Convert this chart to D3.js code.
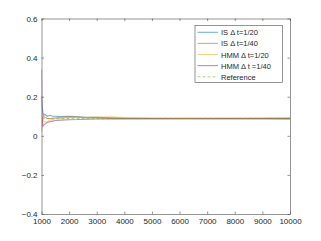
<!DOCTYPE html>
<html><head><meta charset="utf-8">
<script src="https://cdn.jsdelivr.net/npm/d3@7/dist/d3.min.js"></script>
<style>body{margin:0;background:#fff}svg{display:block}</style>
</head><body>
<script>
const xs = [1000,1020,1050,1080,1120,1200,1300,1400,1500,1700,2000,2300,2600,3000,3500,4000,5000,6000,7000,8000,9000,10000];
const isDt20  = [0.20,0.15,0.12,0.105,0.11,0.10,0.105,0.10,0.10,0.098,0.10,0.098,0.095,0.094,0.092,0.09,0.089,0.089,0.089,0.089,0.089,0.089];
const isDt40  = [0.02,0.07,0.09,0.10,0.095,0.09,0.088,0.09,0.092,0.095,0.097,0.095,0.093,0.092,0.09,0.089,0.088,0.088,0.088,0.088,0.088,0.088];
const hmmDt20 = [0.10,0.09,0.08,0.075,0.07,0.072,0.08,0.085,0.088,0.09,0.094,0.095,0.095,0.096,0.097,0.093,0.09,0.089,0.09,0.09,0.091,0.093];
const hmmDt40 = [0.34,0.10,0.05,0.055,0.06,0.068,0.072,0.075,0.078,0.08,0.082,0.083,0.085,0.086,0.087,0.086,0.087,0.087,0.087,0.087,0.087,0.086];
const refVal  = [0.088,0.088];
const refX    = [1000,10000];
const labels  = ["IS \u0394 t=1/20","IS \u0394 t=1/40","HMM \u0394 t=1/20","HMM \u0394 t =1/40","Reference"];
const colors  = ["#0072BD","#D95319","#EDB120","#7E2F8E","#77AC30"];
const xTicks  = [1000,2000,3000,4000,5000,6000,7000,8000,9000,10000];
const yTicks  = [-0.4,-0.2,0,0.2,0.4,0.6];

const W=321,H=241, L=41.5, R=290, T=18.5, B=214;
const svg=d3.select("body").append("svg").attr("width",W).attr("height",H);
const x=d3.scaleLinear().domain([1000,10000]).range([L,R]);
const y=d3.scaleLinear().domain([-0.4,0.6]).range([B,T]);
const ax="#4d4d4d", font="Liberation Sans, Arial, sans-serif";

const gx=svg.append("g").attr("transform",`translate(0,${B})`)
 .call(d3.axisBottom(x).tickValues(xTicks).tickSizeInner(-2.5).tickSizeOuter(0).tickPadding(4).tickFormat(d3.format("d")));
const gy=svg.append("g").attr("transform",`translate(${L},0)`)
 .call(d3.axisLeft(y).tickValues(yTicks).tickSizeInner(-2.5).tickSizeOuter(0).tickPadding(4).tickFormat(d=>d===0?"0":d3.format(".1f")(d)));
const gt=svg.append("g").attr("transform",`translate(0,${T})`)
 .call(d3.axisTop(x).tickValues(xTicks).tickSizeInner(-2.5).tickSizeOuter(0).tickFormat(""));
const gr=svg.append("g").attr("transform",`translate(${R},0)`)
 .call(d3.axisRight(y).tickValues(yTicks).tickSizeInner(-2.5).tickSizeOuter(0).tickFormat(""));
[gx,gy,gt,gr].forEach(g=>{g.selectAll("path,line").attr("stroke",ax).attr("stroke-width",0.6);
 g.selectAll("text").attr("fill","#262626").style("font-family",font).style("font-size","8px");});

const line=d3.line().x(d=>x(d[0])).y(d=>y(d[1]));
const series=[isDt20,isDt40,hmmDt20,hmmDt40];
const clip=svg.append("clipPath").attr("id","c").append("rect").attr("x",L).attr("y",T).attr("width",R-L).attr("height",B-T);
const plot=svg.append("g").attr("clip-path","url(#c)");
series.forEach((s,i)=>plot.append("path").datum(xs.map((v,j)=>[v,s[j]]))
 .attr("d",line).attr("fill","none").attr("stroke",colors[i]).attr("stroke-width",1.1).attr("stroke-opacity",0.55));
plot.append("path").datum(refX.map((v,j)=>[v,refVal[j]])).attr("d",line).attr("fill","none")
 .attr("stroke",colors[4]).attr("stroke-width",1.1).attr("stroke-opacity",0.55).attr("stroke-dasharray","3,2");

const lg=svg.append("g");
lg.append("rect").attr("x",195).attr("y",25.5).attr("width",87.5).attr("height",57).attr("fill","#fff").attr("stroke",ax).attr("stroke-width",0.6);
labels.forEach((t,i)=>{const yy=32.3+i*11.1;
 lg.append("line").attr("x1",197.5).attr("x2",218).attr("y1",yy).attr("y2",yy).attr("stroke",colors[i]).attr("stroke-width",1.1).attr("stroke-opacity",0.55).attr("stroke-dasharray",i===4?"3,2":null);
 lg.append("text").attr("x",221).attr("y",yy+3).text(t).attr("fill","#262626").style("font-family",font).style("font-size","7.5px");});
</script>
</body></html>
